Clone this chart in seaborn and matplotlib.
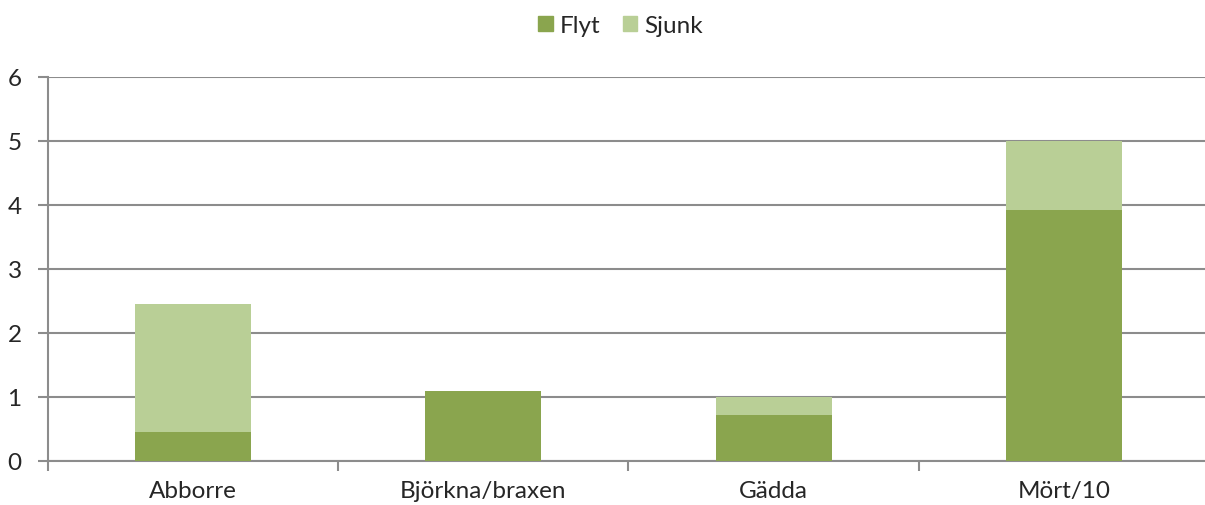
import pandas as pd
import seaborn as sns
import matplotlib.pyplot as plt
from matplotlib.patches import Patch

categories = ["Abborre", "Björkna/braxen", "Gädda", "Mört/10"]
flyt = [0.45, 1.09, 0.72, 3.92]
sjunk = [2.00, 0.00, 0.28, 1.08]

df = pd.DataFrame({"art": categories, "Flyt": flyt, "Sjunk": sjunk})
df["total"] = df["Flyt"] + df["Sjunk"]

dark = "#8AA54E"
light = "#B9CF96"
gray = "#8C8C8C"

sns.set_style("white")
plt.rcParams["font.family"] = ["Lato", "DejaVu Sans"]

fig = plt.figure(figsize=(12.05, 5.06), dpi=100)
# plot area runs slightly past the right edge, as in the reference
ax = fig.add_axes([0.0398, 0.087, 0.9635, 0.759])

# stacked: draw total first, then the lower part on top
sns.barplot(data=df, x="art", y="total", color=light, width=0.40,
            saturation=1, ax=ax, zorder=3, linewidth=0)
sns.barplot(data=df, x="art", y="Flyt", color=dark, width=0.40,
            saturation=1, ax=ax, zorder=4, linewidth=0)

ax.set_ylim(0, 6)
ax.set_xlim(-0.5, 3.5)
ax.set_yticks(range(7))
ax.set_xlabel("")
ax.set_ylabel("")
ax.yaxis.grid(True, color=gray, linewidth=1.5, zorder=0)
ax.set_axisbelow(True)

for side in ["top", "right"]:
    ax.spines[side].set_visible(False)
for side in ["left", "bottom"]:
    ax.spines[side].set_color(gray)
    ax.spines[side].set_linewidth(1.5)

# category separators as x ticks
ax.set_xticks([-0.5, 0.5, 1.5, 2.5, 3.5], minor=False)
ax.set_xticklabels([])
ax.set_xticks(range(4), minor=True)
ax.set_xticklabels(categories, minor=True)
ax.tick_params(axis="x", which="major", length=7, width=1.5, color=gray, direction="out")
ax.tick_params(axis="x", which="minor", length=0, labelsize=17.5, pad=14)
ax.tick_params(axis="y", length=7, width=1.5, color=gray, direction="out", labelsize=17.5, pad=12)
ax.tick_params(left=True, bottom=True)

handles = [Patch(color=dark, label="Flyt"), Patch(color=light, label="Sjunk")]
fig.legend(handles=handles, loc="center", bbox_to_anchor=(0.515, 0.948), ncol=2,
           frameon=False, fontsize=17.5, handlelength=0.6, handleheight=0.6,
           handletextpad=0.3, columnspacing=0.9)

fig.savefig("out.png", dpi=100)
